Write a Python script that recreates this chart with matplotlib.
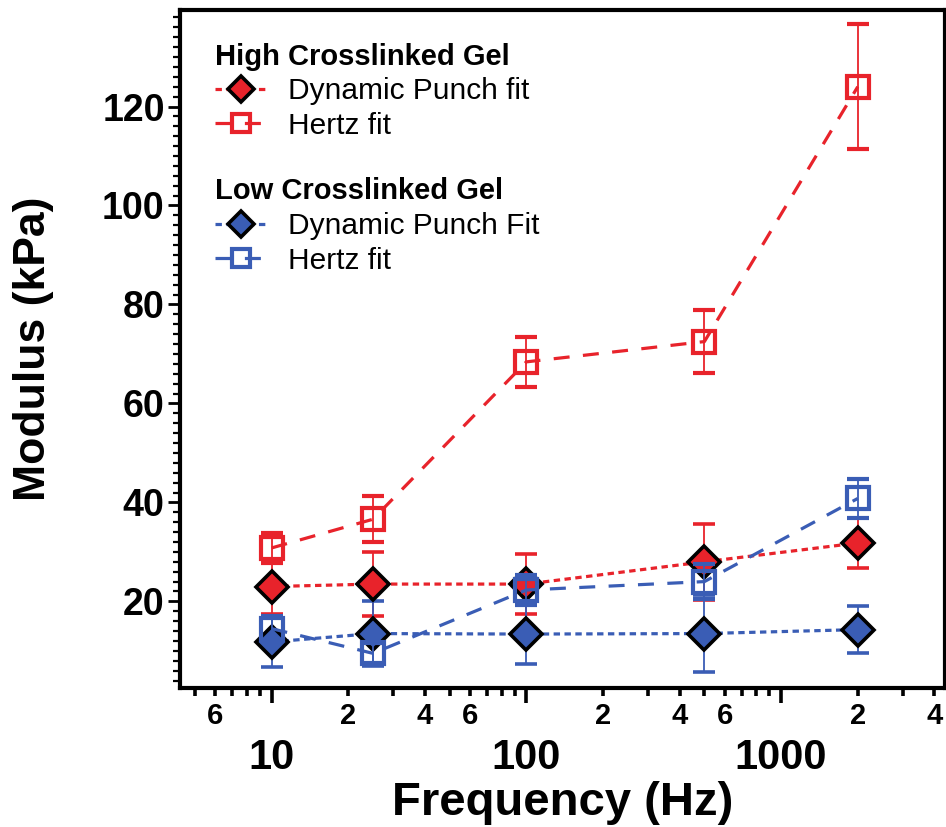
import numpy as np
import matplotlib
matplotlib.use("Agg")
import matplotlib.pyplot as plt
from matplotlib.ticker import FixedLocator, MultipleLocator, FixedFormatter

plt.rcParams['font.family'] = ['Liberation Sans', 'DejaVu Sans']

# data
freq = [10, 25, 100, 500, 2000]
high_dp = [23.0, 23.5, 23.5, 28.0, 31.8]
high_dp_err = [5.5, 6.5, 6.0, 7.7, 5.0]
high_hz = [30.8, 36.6, 68.4, 72.5, 124.0]
high_hz_err = [3.0, 4.6, 5.0, 6.3, 12.6]
low_dp = [11.8, 13.5, 13.4, 13.5, 14.3]
low_dp_err = [5.0, 6.5, 6.0, 7.8, 4.8]
low_hz = [14.5, 9.5, 22.3, 24.0, 40.8]
low_hz_err = [2.5, 2.0, 3.0, 3.5, 4.0]

RED = "#E8232B"
BLUE = "#3A5DB5"
DOT = (2.0, 1.4)
DASH = (5.0, 4.2)

fig = plt.figure(figsize=(9.46, 8.27), dpi=100)
ax = fig.add_axes([180 / 946, 1 - 688 / 827, 765 / 946, 678 / 827])

err_kw = dict(elinewidth=1.3, capsize=8, capthick=1.3)

h1 = ax.errorbar(freq, high_dp, yerr=high_dp_err, color=RED, ecolor=RED, lw=2.3,
                 dashes=DOT, marker="D", ms=16, mfc=RED, mec="black", mew=2.6,
                 zorder=3, **err_kw)
h3 = ax.errorbar(freq, low_dp, yerr=low_dp_err, color=BLUE, ecolor=BLUE, lw=2.3,
                 dashes=DOT, marker="D", ms=16, mfc=BLUE, mec="black", mew=2.6,
                 zorder=3, **err_kw)
h2 = ax.errorbar(freq, high_hz, yerr=high_hz_err, color=RED, ecolor=RED, lw=2.3,
                 dashes=DASH, marker="s", ms=16, mfc="none", mec=RED, mew=3,
                 zorder=4, **err_kw)
h4 = ax.errorbar(freq, low_hz, yerr=low_hz_err, color=BLUE, ecolor=BLUE, lw=2.3,
                 dashes=DASH, marker="s", ms=16, mfc="none", mec=BLUE, mew=3,
                 zorder=4, **err_kw)

ax.set_xscale("log")
ax.set_xlim(4.37, 4400)
ax.set_ylim(2.5, 139.5)

# x ticks: decades labelled below, 2/4/6 labelled as minor
ax.xaxis.set_major_locator(FixedLocator([10, 100, 1000]))
ax.xaxis.set_major_formatter(FixedFormatter(["10", "100", "1000"]))
minor = [m * 10 ** e for e in range(0, 4) for m in range(2, 10)]
minor = [v for v in minor if 4.3 < v < 4500]
ax.xaxis.set_minor_locator(FixedLocator(minor))
ax.xaxis.set_minor_formatter(plt.FuncFormatter(
    lambda v, p: str(int(round(v / 10 ** np.floor(np.log10(v)))))
    if int(round(v / 10 ** np.floor(np.log10(v)))) in (2, 4, 6) else ""))
ax.tick_params(axis="x", which="major", direction="out", length=11, width=2.6,
               pad=25, labelsize=30)
ax.tick_params(axis="x", which="minor", direction="out", length=6, width=2.6,
               pad=4, labelsize=21)

ax.yaxis.set_major_locator(MultipleLocator(20))
ax.yaxis.set_minor_locator(MultipleLocator(2))
ax.tick_params(axis="y", which="major", direction="out", length=9, width=2,
               pad=2, labelsize=27)
ax.tick_params(axis="y", which="minor", direction="out", length=5, width=1.6)
for lab in ax.get_xticklabels(which="both") + ax.get_yticklabels():
    lab.set_fontweight("bold")

for sp in ax.spines.values():
    sp.set_linewidth(3)

ax.set_xlabel("Frequency (Hz)", fontsize=34, fontweight="bold")
ax.set_ylabel("Modulus (kPa)", fontsize=32, fontweight="bold")
ax.xaxis.set_label_coords(0.5, -0.137)
ax.yaxis.set_label_coords(-0.165, 0.5)

leg_kw = dict(frameon=False, fontsize=21.5, handlelength=1.7, handletextpad=0.75,
              labelspacing=0.22, borderpad=0, borderaxespad=0, markerscale=0.8,
              alignment="left", title_fontproperties={"weight": "bold", "size": 21})
leg1 = ax.legend([h1[0], h2[0]], ["Dynamic Punch fit", "Hertz fit"],
                 title="High Crosslinked Gel", loc="upper left",
                 bbox_to_anchor=(0.046, 0.952), **leg_kw)
ax.add_artist(leg1)
ax.legend([h3[0], h4[0]], ["Dynamic Punch Fit", "Hertz fit"],
          title="Low Crosslinked Gel", loc="upper left",
          bbox_to_anchor=(0.046, 0.753), **leg_kw)

fig.savefig("out.png", dpi=100)
